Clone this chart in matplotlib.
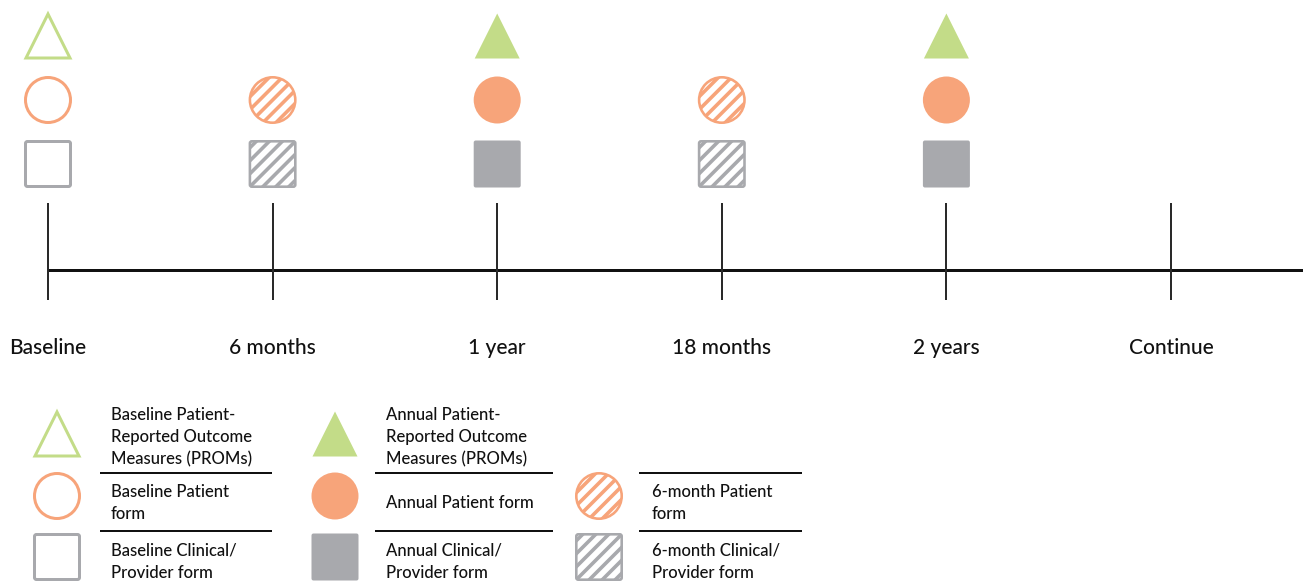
import matplotlib
matplotlib.use("Agg")
import matplotlib.pyplot as plt
import matplotlib.patches as mpatches
import matplotlib.transforms as mtransforms
from matplotlib.lines import Line2D
import numpy as np

# ---------------- data ----------------
timepoints = ["Baseline", "6 months", "1 year", "18 months", "2 years", "Continue"]
proms_type = ["open", None, "filled", None, "filled", None]
patient_type = ["open", "hatched", "filled", "hatched", "filled", None]
clinical_type = ["open", "hatched", "filled", "hatched", "filled", None]

legend_col1 = [("triangle", "open", "Baseline Patient-\nReported Outcome\nMeasures (PROMs)"),
               ("circle", "open", "Baseline Patient\nform"),
               ("square", "open", "Baseline Clinical/\nProvider form")]
legend_col2 = [("triangle", "filled", "Annual Patient-\nReported Outcome\nMeasures (PROMs)"),
               ("circle", "filled", "Annual Patient form"),
               ("square", "filled", "Annual Clinical/\nProvider form")]
legend_col3 = [("circle", "hatched", "6-month Patient\nform"),
               ("square", "hatched", "6-month Clinical/\nProvider form")]

# ---------------- style ----------------
GREEN = "#c3dc88"
ORANGE = "#f7a47a"
GRAY = "#a8a9ad"
INK = "#111111"
COLORS = {"triangle": GREEN, "circle": ORANGE, "square": GRAY}
FONT = ["Lato", "DejaVu Sans"]
WEIGHT = "medium"

W, H, DPI = 1303, 582, 100
PT = 72.0 / DPI  # points per pixel

fig = plt.figure(figsize=(W / DPI, H / DPI), dpi=DPI)
fig.patch.set_facecolor("white")

# timeline axes: x in timepoint index, y in pixels from top
ax = fig.add_axes([0, 0, 1, 1])
ax.set_axis_off()
x0px, x5px = 48, 1171
step = (x5px - x0px) / (len(timepoints) - 1)
ax.set_xlim(-x0px / step, (W - x0px) / step)
ax.set_ylim(H, 0)

# legend axes: pixel coordinates
lg = fig.add_axes([0, 0, 1, 1])
lg.set_axis_off()
lg.patch.set_visible(False)
lg.set_xlim(0, W)
lg.set_ylim(H, 0)


def px_trans(axis, cx, cy):
    return mtransforms.Affine2D().scale(DPI / 100.0) + \
        mtransforms.ScaledTranslation(cx, cy, axis.transData)


def shape_patch(kind, half, trans, **kw):
    if kind == "triangle":
        p = mpatches.Polygon([(-half, -half), (half, -half), (0, half)],
                             closed=True, transform=trans, joinstyle="miter", **kw)
    elif kind == "circle":
        p = mpatches.Circle((0, 0), half, transform=trans, **kw)
    else:
        p = mpatches.FancyBboxPatch((-half, -half), 2 * half, 2 * half,
                                    boxstyle="round,pad=0,rounding_size=2",
                                    transform=trans, **kw)
    return p


def draw_shape(axis, cx, cy, kind, style):
    if style is None:
        return
    col = COLORS[kind]
    trans = px_trans(axis, cx, cy)
    outer = 24.0 if kind != "triangle" else 23.5
    if style == "filled":
        p = shape_patch(kind, outer - 0.5 if kind != "triangle" else 22.5, trans,
                        facecolor=col, edgecolor="none", zorder=3)
        axis.add_patch(p)
    elif style == "open":
        lw = 3.0
        p = shape_patch(kind, outer - lw / 2, trans, facecolor="white",
                        edgecolor=col, linewidth=lw * PT, zorder=3)
        axis.add_patch(p)
    else:  # hatched
        lw = 2.6
        back = shape_patch(kind, outer - lw / 2, trans, facecolor="white",
                           edgecolor="none", zorder=3)
        axis.add_patch(back)
        for c in np.arange(-65, 66, 13.0):
            ln = Line2D([c - 40, c + 40], [-40, 40], color=col,
                        linewidth=3.6 * PT, transform=trans, zorder=4,
                        solid_capstyle="butt")
            ln.set_clip_path(back)
            axis.add_line(ln)
        edge = shape_patch(kind, outer - lw / 2, trans, facecolor="none",
                           edgecolor=col, linewidth=lw * PT, zorder=5)
        axis.add_patch(edge)


# ---------------- timeline ----------------
line_y, tick_top, tick_bot = 270, 203, 300
ax.plot([0, ax.get_xlim()[1]], [line_y, line_y], color=INK, linewidth=3.0 * PT,
        solid_capstyle="butt", zorder=2)
ax.vlines(np.arange(len(timepoints)), tick_top, tick_bot, color="#2a2a2a",
          linewidth=2.0 * PT, zorder=2)
for i, lab in enumerate(timepoints):
    ax.text(i, 354, lab, ha="center", va="baseline", fontsize=15,
            color=INK, family=FONT, weight=WEIGHT)

row_y = {"triangle": 36, "circle": 100, "square": 164}
for i in range(len(timepoints)):
    draw_shape(ax, i, row_y["triangle"], "triangle", proms_type[i])
    draw_shape(ax, i, row_y["circle"], "circle", patient_type[i])
    draw_shape(ax, i, row_y["square"], "square", clinical_type[i])

# ---------------- legend ----------------
def legend_text(x, y_first, text):
    for k, line in enumerate(text.split("\n")):
        lg.text(x, y_first + 22 * k, line, ha="left", va="baseline",
                fontsize=12, color=INK, family=FONT, weight=WEIGHT)


shape_y = {"triangle": 434, "circle": 496, "square": 557}
text_y = {"triangle": 420, "circle": 497, "square": 556}

cols = [
    (legend_col1, 57, 111, (100, 272)),
    (legend_col2, 335, 386, (375, 553)),
    (legend_col3, 599, 652, (639, 802)),
]
for entries, sx, tx, (lx0, lx1) in cols:
    for kind, style, text in entries:
        draw_shape(lg, sx, shape_y[kind], kind, style)
        ty = text_y[kind]
        if kind == "circle" and "\n" not in text:
            ty = 508
        legend_text(tx, ty, text)
    for sy in (473, 531):
        lg.plot([lx0, lx1], [sy, sy], color=INK, linewidth=2.0 * PT,
                solid_capstyle="butt")

fig.savefig("out.png", dpi=DPI, facecolor="white")
